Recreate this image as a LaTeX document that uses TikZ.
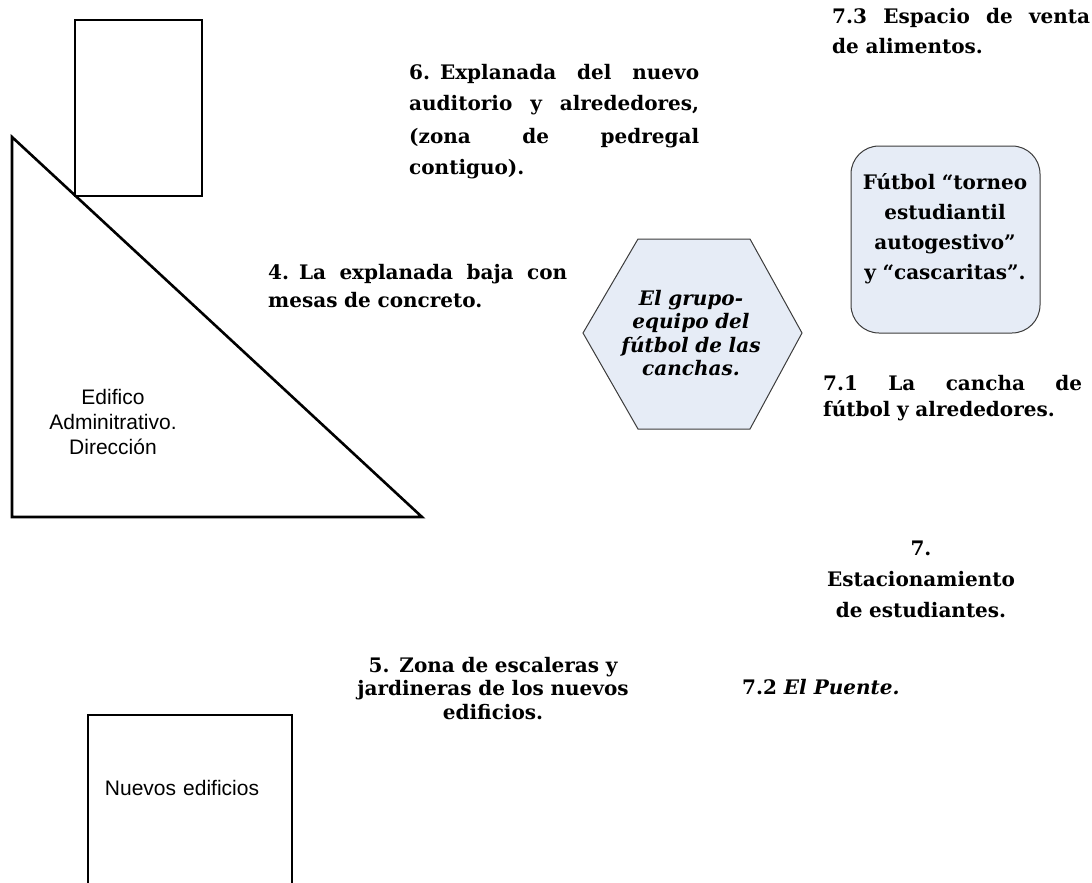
\documentclass[tikz,border=0pt]{standalone}
\usepackage{fontspec}
\setmainfont{DejaVu Serif}
\newfontfamily\arialfont{Liberation Sans}
\definecolor{zonefill}{RGB}{230,236,246}
\definecolor{zoneline}{RGB}{60,60,60}
\newcommand{\jline}[2]{\makebox[#1][s]{\spaceskip=0pt\relax #2}}
\begin{document}
\begin{tikzpicture}[x=1pt,y=-1pt,
	plan/.style={line width=2.6pt,line join=miter},
	zone/.style={fill=zonefill,draw=zoneline,line width=1pt},
	lbl/.style={inner sep=0pt,align=left,anchor=base west},
	clbl/.style={inner sep=0pt,align=center,anchor=base,text width=320pt},
	arial/.style={inner sep=0pt,align=center,anchor=base,text width=200pt}]
	\useasboundingbox (0,0) rectangle (1092,883);
	% edificios
	\draw[plan] (75,20) rectangle (202,196);
	\draw[plan] (12,137) -- (12,517) -- (422,517) -- cycle;
	\draw[plan] (88,886) -- (88,715) -- (292,715) -- (292,886);
	\node[arial,font=\arialfont\fontsize{21}{25}\selectfont] (direccion) at (113,404) {Edifico\\Adminitrativo.\\Dirección};
	\node[arial,font=\arialfont\fontsize{21}{25}\selectfont] (nuevos) at (182,795) {Nuevos edificios};
	% zonas
	\draw[zone] (583,333) -- (638,239) -- (750,239) -- (802,333) -- (750,429) -- (638,429) -- cycle;
	\draw[zone,rounded corners=28pt] (851,146) rectangle (1040,333);
	\node[clbl,font=\bfseries\itshape\fontsize{20}{23.5}\selectfont] (grupo) at (691,305) {El grupo-\\equipo del\\fútbol de las\\canchas.};
	\node[clbl,font=\bfseries\fontsize{20}{30}\selectfont] (torneo) at (945,189) {Fútbol “torneo\\estudiantil\\autogestivo”\\y “cascaritas”.};
	% textos
	\node[lbl,text width=258pt,font=\bfseries\fontsize{20}{29}\selectfont] (venta) at (832,24) {\jline{258pt}{7.3 Espacio de venta}\\de alimentos.};
	\node[lbl,text width=290pt,font=\bfseries\fontsize{20}{32}\selectfont] (auditorio) at (409,79) {\jline{290pt}{6. Explanada del nuevo}\\\jline{290pt}{auditorio y alrededores,}\\\jline{290pt}{(zona de pedregal}\\contiguo).};
	\node[lbl,text width=299pt,font=\bfseries\fontsize{20}{28}\selectfont] (explanada) at (268,279) {\jline{299pt}{4. La explanada baja con}\\mesas de concreto.};
	\node[lbl,text width=259pt,font=\bfseries\fontsize{20}{26}\selectfont] (cancha) at (823,390) {\jline{259pt}{7.1 La cancha de}\\fútbol y alrededores.};
	\node[clbl,font=\bfseries\fontsize{20}{31}\selectfont] (estacionamiento) at (921,555) {7.\\Estacionamiento\\de estudiantes.};
	\node[clbl,font=\bfseries\fontsize{20}{23.5}\selectfont] (escaleras) at (493,672) {5. Zona de escaleras y\\jardineras de los nuevos\\edificios.};
	\node[lbl,font=\bfseries\fontsize{20}{24}\selectfont] (puente) at (742,694) {7.2 \textit{El Puente.}};
\end{tikzpicture}
\end{document}
